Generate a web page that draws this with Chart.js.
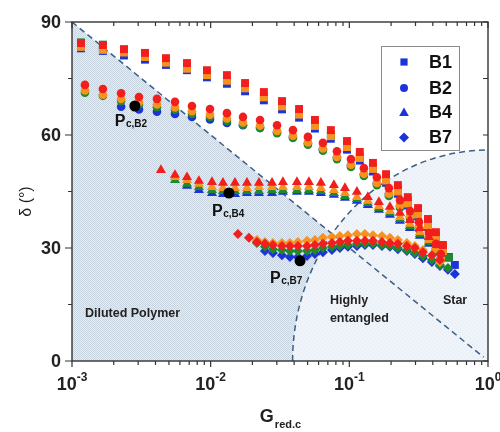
<!DOCTYPE html>
<html>
<head>
<meta charset="utf-8">
<script src="https://cdn.jsdelivr.net/npm/chart.js@4.4.0/dist/chart.umd.min.js"></script>
<style>
    html, body { margin: 0; padding: 0; background: #fff; }
    canvas { display: block; }
</style>
</head>
<body>
<canvas id="deltaChart" width="500" height="432"></canvas>
<script>
// axis ranges and ticks
const xMin = 0.001, xMax = 1;
const yMin = 0, yMax = 90;
const yTicks = [0, 30, 60, 90];
const yMinorTicks = [15, 45, 75];
const xTickExps = [-3, -2, -1, 0];

const seriesNames = ['B1', 'B2', 'B4', 'B7'];

// B1 (squares)
const gB1 = [0.00116, 0.00167, 0.00237, 0.00336, 0.00476, 0.00675, 0.0094, 0.0131, 0.0177, 0.0242, 0.0327, 0.0434, 0.0565, 0.0736, 0.0962, 0.119, 0.148, 0.184, 0.224, 0.264, 0.313, 0.369, 0.421, 0.473, 0.522, 0.577];
const b1Red    = [84.4, 83.9, 82.8, 81.8, 80.4, 79.1, 77.2, 75.9, 73.8, 71.4, 69.0, 66.9, 64.0, 61.3, 58.4, 55.5, 52.6, 49.6, 46.7, 43.5, 40.6, 37.7, 34.2, 30.8, null, null];
const b1Orange = [83.4, 82.6, 81.9, 80.7, 79.2, 77.6, 75.9, 74.4, 72.4, 70.0, 67.6, 65.4, 62.4, 59.7, 56.8, 53.9, 51.0, 47.9, 45.0, 41.8, 38.9, 36.0, 32.6, 29.2, null, null];
const b1Green  = [84.6, 84.0, 82.6, 81.3, 79.6, 78.0, 76.3, 74.6, 72.6, 70.3, 67.8, 65.6, 62.8, 60.0, 57.2, 54.3, 51.4, 48.4, 45.6, 42.6, 39.6, 36.8, 33.3, 30.2, 27.4, null];
const b1Blue   = [83.0, 82.3, 81.1, 80.0, 78.6, 77.2, 75.3, 73.6, 71.6, 69.2, 66.8, 64.6, 61.7, 59.0, 56.1, 53.2, 50.3, 47.3, 44.4, 41.3, 38.4, 35.5, 32.0, 29.5, 27.6, 25.5];

// B2 (circles)
const gB2 = [0.00124, 0.00167, 0.00226, 0.00304, 0.0041, 0.00553, 0.00733, 0.00989, 0.0131, 0.0171, 0.0227, 0.0301, 0.0392, 0.0503, 0.0645, 0.0814, 0.1027, 0.1274, 0.158, 0.193, 0.232, 0.274, 0.318, 0.375, 0.421, 0.457];
const b2Red    = [73.3, 72.2, 71.1, 70.1, 69.6, 68.8, 67.7, 66.9, 65.8, 64.8, 64.0, 62.6, 61.3, 59.5, 57.9, 55.7, 53.6, 51.2, 48.8, 45.9, 42.7, 39.8, 36.9, 34.0, 31.1, 28.4];
const b2Orange = [71.8, 70.7, 69.6, 68.7, 68.1, 67.3, 66.3, 65.4, 64.4, 63.3, 62.5, 61.1, 59.8, 58.0, 56.4, 54.2, 52.1, 49.7, 47.3, 44.4, 41.3, 38.4, 35.5, 32.6, 29.8, 27.2];
const b2Green  = [71.2, 70.4, 69.0, 68.1, 67.4, 66.7, 65.6, 64.8, 63.7, 62.7, 61.9, 60.5, 59.2, 57.4, 55.8, 53.6, 51.5, 49.1, 46.7, 43.8, 40.7, 37.8, 34.9, 32.1, 29.3, 26.8];
const b2Blue   = [null, null, 67.5, 66.8, 66.2, 65.6, 64.8, 64.1, 63.2, 62.6, 61.9, 60.7, 59.5, 57.8, 56.2, 54.1, 52.0, 49.6, 47.2, 44.3, 41.2, 38.3, 35.4, 32.6, 29.9, 27.5];

// B4 (triangles)
const gB4 = [0.00438, 0.00553, 0.00675, 0.00823, 0.01022, 0.01227, 0.01497, 0.01827, 0.0223, 0.0277, 0.0332, 0.0419, 0.0511, 0.0624, 0.0774, 0.093, 0.1134, 0.136, 0.1634, 0.1962, 0.2317, 0.2735, 0.3228, 0.375, 0.428];
const b4Red    = [50.7, 49.4, 48.8, 47.8, 47.5, 47.3, 47.3, 47.3, 47.3, 47.3, 47.5, 47.5, 47.5, 47.3, 46.7, 45.9, 44.9, 43.5, 42.2, 40.9, 39.3, 37.4, 35.3, 32.9, 30.8];
const b4Orange = [null, 48.8, 48.0, 47.0, 46.2, 45.9, 45.9, 45.9, 46.2, 46.2, 46.2, 46.2, 46.2, 45.9, 45.4, 44.6, 43.5, 42.5, 41.1, 39.8, 38.2, 36.4, 34.2, 32.1, 30.0];
const b4Green  = [null, 48.0, 47.0, 46.2, 45.4, 45.1, 45.1, 45.1, 45.1, 45.4, 45.4, 45.4, 45.4, 45.1, 44.6, 43.8, 43.0, 41.9, 40.6, 39.3, 37.7, 35.8, 33.7, 31.6, 29.5];
const b4Blue   = [null, null, 46.5, 45.4, 44.6, 44.3, 44.3, 44.6, 44.6, 44.6, 44.9, 44.9, 44.9, 44.6, 44.1, 43.3, 42.5, 41.4, 40.1, 38.8, 37.2, 35.3, 33.2, 31.1, 28.9];

// B7 (diamonds)
const gB7 = [0.01573, 0.01888, 0.02157, 0.02463, 0.02812, 0.03266, 0.0373, 0.0426, 0.0495, 0.0565, 0.0645, 0.0749, 0.0855, 0.0977, 0.1134, 0.1296, 0.148, 0.1718, 0.1962, 0.224, 0.26, 0.297, 0.339, 0.394, 0.45, 0.514, 0.577];
const b7Red    = [33.7, 32.7, 31.6, 31.1, 30.8, 30.5, 30.5, 30.5, 30.5, 30.8, 31.1, 31.3, 31.6, 31.9, 31.9, 31.9, 31.9, 31.6, 31.3, 31.1, 30.5, 30.0, 28.9, 28.1, 26.8, null, null];
const b7Orange = [null, null, 32.1, 31.6, 31.3, 31.3, 31.3, 31.6, 31.9, 32.1, 32.7, 32.9, 33.2, 33.4, 33.7, 33.7, 33.4, 33.2, 32.7, 32.1, 31.3, 30.5, 29.5, 28.1, 26.3, null, null];
const b7Green  = [null, null, 31.3, 30.3, 29.7, 29.5, 29.2, 29.2, 29.2, 29.5, 30.0, 30.3, 30.5, 30.8, 31.1, 31.1, 31.1, 30.8, 30.5, 30.0, 29.5, 28.7, 27.9, 26.8, 25.5, 24.7, null];
const b7Blue   = [null, null, null, 29.2, 28.7, 28.1, 27.6, 27.6, 27.9, 28.4, 28.9, 29.5, 30.0, 30.3, 30.5, 30.8, 30.8, 30.5, 30.3, 29.7, 29.2, 28.4, 27.3, 26.3, 25.2, 24.2, 23.1];

// critical points P_c
const pcNames = ['B2', 'B4', 'B7'];
const pcG = [0.00284, 0.01355, 0.0441];
const pcDelta = [67.7, 44.6, 26.6];

// region boundaries
const arcStartG = 0.039;
const arcTopDelta = 56;

const colors = { red: '#f21d1d', orange: '#f7921e', green: '#1f8a2c', blue: '#1b33d8' };
const colorOrder = ['red', 'orange', 'green', 'blue'];
const shapeStyles = {
    B1: { pointStyle: 'rect', radius: 5.6 },
    B2: { pointStyle: 'circle', radius: 4.3 },
    B4: { pointStyle: 'triangle', radius: 5.8 },
    B7: { pointStyle: 'rectRot', radius: 5 }
};
const seriesData = {
    B1: { g: gB1, red: b1Red, orange: b1Orange, green: b1Green, blue: b1Blue },
    B2: { g: gB2, red: b2Red, orange: b2Orange, green: b2Green, blue: b2Blue },
    B4: { g: gB4, red: b4Red, orange: b4Orange, green: b4Green, blue: b4Blue },
    B7: { g: gB7, red: b7Red, orange: b7Orange, green: b7Green, blue: b7Blue }
};

const FONT = "'Liberation Sans', Arial, Helvetica, sans-serif";

function toPoints(xs, ys) {
    const out = [];
    xs.forEach(function(x, i) {
        if (ys[i] !== null && ys[i] !== undefined) {
            out.push({ x: x, y: ys[i] });
        }
    });
    return out;
}

const datasets = [];
datasets.push({
    label: 'Pc',
    data: toPoints(pcG, pcDelta),
    pointStyle: 'circle',
    pointRadius: 5.5,
    backgroundColor: '#000',
    borderWidth: 0,
    order: 0,
    clip: false
});
colorOrder.forEach(function(colorName, ci) {
    seriesNames.forEach(function(name) {
        const style = shapeStyles[name];
        datasets.push({
            label: name + ' ' + colorName,
            data: toPoints(seriesData[name].g, seriesData[name][colorName]),
            pointStyle: style.pointStyle,
            pointRadius: style.radius,
            backgroundColor: colors[colorName],
            borderWidth: 0,
            order: ci + 1,
            clip: false
        });
    });
});

function makePattern(ctx, bg, fg, cells) {
    const c = document.createElement('canvas');
    c.width = 4;
    c.height = 4;
    const p = c.getContext('2d');
    p.fillStyle = bg;
    p.fillRect(0, 0, 4, 4);
    p.fillStyle = fg;
    cells.forEach(function(cell) {
        p.fillRect(cell[0], cell[1], 1, 1);
    });
    return ctx.createPattern(c, 'repeat');
}

const regionsPlugin = {
    id: 'regions',
    beforeDatasetsDraw: function(chart) {
        const ctx = chart.ctx;
        const xs = chart.scales.x, ys = chart.scales.y;
        const x0 = xs.getPixelForValue(xMin), x1 = xs.getPixelForValue(xMax);
        const yb = ys.getPixelForValue(yMin), yt = ys.getPixelForValue(yMax);
        const ex = xs.getPixelForValue(arcStartG), ey = ys.getPixelForValue(arcTopDelta);

        const hatch = makePattern(ctx, '#e6ebf1', '#c9d5e1',
            [[0, 0], [2, 0], [1, 1], [3, 1], [0, 2], [2, 2], [1, 3], [3, 3]]);
        const light = makePattern(ctx, '#f0f4f8', '#e2e9f0', [[0, 0], [2, 2]]);

        ctx.save();
        ctx.beginPath();
        ctx.rect(x0, yt, x1 - x0, yb - yt);
        ctx.clip();

        ctx.beginPath();
        ctx.moveTo(x0, yt);
        ctx.lineTo(x1, yb);
        ctx.lineTo(x0, yb);
        ctx.closePath();
        ctx.fillStyle = hatch;
        ctx.fill();

        ctx.beginPath();
        ctx.moveTo(x1, yb);
        ctx.ellipse(x1, yb, x1 - ex, yb - ey, 0, Math.PI, 1.5 * Math.PI);
        ctx.closePath();
        ctx.fillStyle = light;
        ctx.fill();

        ctx.strokeStyle = '#3d5f86';
        ctx.lineWidth = 1.5;
        ctx.setLineDash([6, 4]);
        ctx.beginPath();
        ctx.moveTo(x0, yt);
        ctx.lineTo(xs.getPixelForValue(0.93), ys.getPixelForValue(1));
        ctx.stroke();

        ctx.beginPath();
        ctx.ellipse(x1, yb, x1 - ex, yb - ey, 0, Math.PI, 1.5 * Math.PI);
        ctx.stroke();
        ctx.restore();

        // region names
        ctx.save();
        ctx.fillStyle = '#222';
        ctx.font = 'bold 12.5px ' + FONT;
        ctx.textBaseline = 'alphabetic';
        ctx.textAlign = 'left';
        ctx.fillText('Diluted Polymer', xs.getPixelForValue(0.00124), ys.getPixelForValue(11.7));
        ctx.fillText('Highly', xs.getPixelForValue(0.0724), ys.getPixelForValue(15.1));
        ctx.fillText('entangled', xs.getPixelForValue(0.0724), ys.getPixelForValue(10.4));
        ctx.fillText('Star', xs.getPixelForValue(0.473), ys.getPixelForValue(15.1));
        ctx.restore();
    }
};

function drawPow(ctx, cx, baseline, base, exp) {
    ctx.font = 'bold 18px ' + FONT;
    const wb = ctx.measureText(base).width;
    ctx.font = 'bold 12px ' + FONT;
    const we = ctx.measureText(exp).width;
    const left = cx - (wb + we) / 2;
    ctx.textAlign = 'left';
    ctx.font = 'bold 18px ' + FONT;
    ctx.fillText(base, left, baseline);
    ctx.font = 'bold 12px ' + FONT;
    ctx.fillText(exp, left + wb, baseline - 9);
}

const axesPlugin = {
    id: 'axesFrame',
    afterDatasetsDraw: function(chart) {
        const ctx = chart.ctx;
        const xs = chart.scales.x, ys = chart.scales.y;
        const x0 = xs.getPixelForValue(xMin), x1 = xs.getPixelForValue(xMax);
        const yb = ys.getPixelForValue(yMin), yt = ys.getPixelForValue(yMax);

        // P_c labels
        const pcOffsets = [[-20, 20], [-17, 23], [-30, 22]];
        ctx.save();
        ctx.fillStyle = '#111';
        ctx.textBaseline = 'alphabetic';
        ctx.textAlign = 'left';
        pcNames.forEach(function(name, i) {
            const px = xs.getPixelForValue(pcG[i]) + pcOffsets[i][0];
            const py = ys.getPixelForValue(pcDelta[i]) + pcOffsets[i][1];
            ctx.font = 'bold 16px ' + FONT;
            ctx.fillText('P', px, py);
            const wp = ctx.measureText('P').width;
            ctx.font = 'bold 10px ' + FONT;
            ctx.fillText('c,' + name, px + wp + 0.5, py + 1);
        });
        ctx.restore();

        // frame
        ctx.save();
        ctx.strokeStyle = '#333';
        ctx.lineWidth = 1.4;
        ctx.strokeRect(x0, yt, x1 - x0, yb - yt);

        ctx.lineWidth = 1.2;
        ctx.beginPath();
        for (let d = -3; d <= 0; d++) {
            for (let m = 1; m <= 9; m++) {
                const v = m * Math.pow(10, d);
                if (v > xMax * 1.0001) break;
                const px = xs.getPixelForValue(v);
                const len = m === 1 ? 6 : 4;
                ctx.moveTo(px, yb);
                ctx.lineTo(px, yb + len);
                ctx.moveTo(px, yt);
                ctx.lineTo(px, yt + len);
            }
        }
        yTicks.concat(yMinorTicks).forEach(function(v) {
            const py = ys.getPixelForValue(v);
            const major = yTicks.indexOf(v) >= 0;
            ctx.moveTo(x0, py);
            ctx.lineTo(x0 - (major ? 7 : 4), py);
            ctx.moveTo(x1, py);
            ctx.lineTo(x1 - 5, py);
        });
        ctx.stroke();

        // tick labels
        ctx.fillStyle = '#222';
        ctx.font = 'bold 18px ' + FONT;
        ctx.textAlign = 'right';
        ctx.textBaseline = 'middle';
        yTicks.forEach(function(v) {
            ctx.fillText(String(v), x0 - 11, ys.getPixelForValue(v) + 1);
        });
        ctx.textBaseline = 'alphabetic';
        xTickExps.forEach(function(e) {
            drawPow(ctx, xs.getPixelForValue(Math.pow(10, e)), yb + 29, '10', String(e));
        });

        // axis titles
        ctx.font = 'bold 18px ' + FONT;
        const wg = ctx.measureText('G').width;
        ctx.font = 'bold 11px ' + FONT;
        const ws = ctx.measureText('red.c').width;
        const gl = (x0 + x1) / 2 - (wg + ws) / 2;
        ctx.textAlign = 'left';
        ctx.font = 'bold 18px ' + FONT;
        ctx.fillText('G', gl, 422);
        ctx.font = 'bold 11px ' + FONT;
        ctx.fillText('red.c', gl + wg + 1, 428);

        ctx.save();
        ctx.translate(27, (yt + yb) / 2 + 10);
        ctx.rotate(-Math.PI / 2);
        ctx.textAlign = 'center';
        ctx.textBaseline = 'middle';
        ctx.font = '16px ' + FONT;
        ctx.fillText('\u03b4 (\u00b0)', 0, 0);
        ctx.restore();

        // legend
        const lx = 381, ly = 46, lw = 78, lh = 104;
        ctx.fillStyle = '#fff';
        ctx.fillRect(lx, ly, lw, lh);
        ctx.strokeStyle = '#8a8a8a';
        ctx.lineWidth = 1;
        ctx.strokeRect(lx + 0.5, ly + 0.5, lw, lh);
        const rows = [62, 88, 112.5, 137.5];
        seriesNames.forEach(function(name, i) {
            const cx = 404, cy = rows[i];
            ctx.fillStyle = colors.blue;
            ctx.beginPath();
            if (name === 'B1') {
                ctx.rect(cx - 3.6, cy - 3.6, 7.2, 7.2);
            } else if (name === 'B2') {
                ctx.arc(cx, cy, 4, 0, Math.PI * 2);
            } else if (name === 'B4') {
                ctx.moveTo(cx, cy - 5);
                ctx.lineTo(cx + 4.8, cy + 3.5);
                ctx.lineTo(cx - 4.8, cy + 3.5);
                ctx.closePath();
            } else {
                ctx.moveTo(cx, cy - 5);
                ctx.lineTo(cx + 5, cy);
                ctx.lineTo(cx, cy + 5);
                ctx.lineTo(cx - 5, cy);
                ctx.closePath();
            }
            ctx.fill();
            ctx.fillStyle = '#111';
            ctx.font = 'bold 18px ' + FONT;
            ctx.textAlign = 'left';
            ctx.textBaseline = 'middle';
            ctx.fillText(name, 429, cy + 1);
        });
        ctx.restore();
    }
};

new Chart(document.getElementById('deltaChart'), {
    type: 'scatter',
    data: { datasets: datasets },
    options: {
        responsive: false,
        animation: false,
        layout: { padding: { left: 72, right: 12, top: 22, bottom: 71 } },
        plugins: {
            legend: { display: false },
            tooltip: { enabled: false }
        },
        scales: {
            x: { type: 'logarithmic', min: xMin, max: xMax, display: false },
            y: { type: 'linear', min: yMin, max: yMax, display: false }
        }
    },
    plugins: [regionsPlugin, axesPlugin]
});
</script>
</body>
</html>
